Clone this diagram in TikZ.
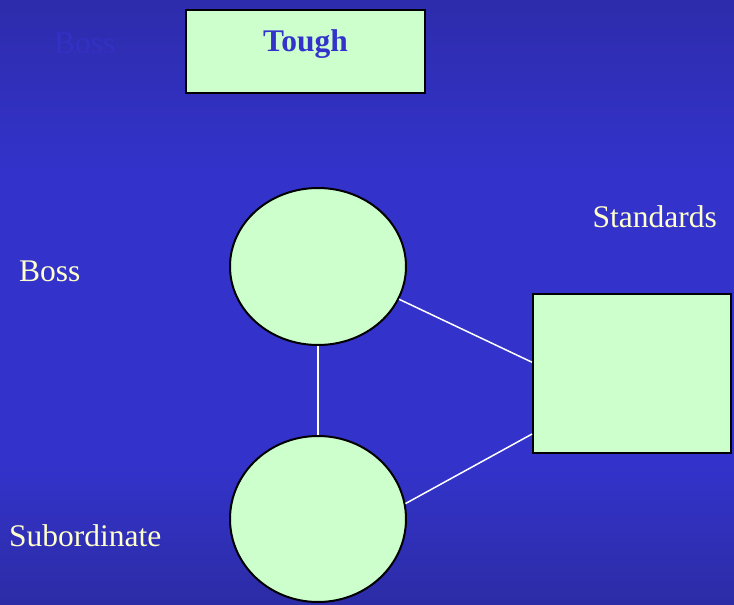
\documentclass[tikz,border=0pt]{standalone}
\usepackage{fontspec}
\setmainfont{Liberation Serif}
\usetikzlibrary{shapes.geometric,calc}
\definecolor{bgtop}{RGB}{45,44,172}
\definecolor{bgmid}{RGB}{51,51,204}
\definecolor{bgbot}{RGB}{44,44,166}
\definecolor{mint}{RGB}{204,255,204}
\definecolor{cream}{RGB}{255,255,204}
\definecolor{titleblue}{RGB}{51,51,204}
\definecolor{ghost}{RGB}{52,48,196}
% slide background: dark at top and bottom, brighter in the middle
\pgfdeclareverticalshading{slidebg}{100bp}{%
  color(0bp)=(bgbot); color(25bp)=(bgbot); color(37bp)=(bgmid);
  color(60bp)=(bgmid); color(75bp)=(bgtop); color(100bp)=(bgtop)}
\tikzset{
  big/.style={font=\fontsize{31.5pt}{36pt}\selectfont, inner sep=0pt},
  lbl/.style={big, text=cream, anchor=base west},
  shapebox/.style={draw=black, line width=2pt, fill=mint, inner sep=0pt},
  oval/.style={shapebox, ellipse},
  link/.style={draw=white, line width=1.5pt}
}
\begin{document}
\begin{tikzpicture}[x=1pt,y=-1pt]
  % background
  \shade[shading=slidebg] (0,0) rectangle (734,605);
  \useasboundingbox (0,0) rectangle (734,605);

  % title box
  \node[shapebox, rectangle, minimum width=239pt, minimum height=83pt]
    (tough) at (305.5,51.5) {};
  \node[big, font=\fontsize{31.5pt}{36pt}\selectfont\bfseries, text=titleblue, anchor=base]
    (toughtxt) at (305.5,51) {Tough};
  \node[big, text=ghost, anchor=base west] (ghostboss) at (54,53) {Boss};

  % actors
  \node[oval, minimum width=176pt, minimum height=157pt] (boss) at (318,266.5) {};
  \node[oval, minimum width=176pt, minimum height=166pt] (sub) at (318,519) {};
  \node[shapebox, rectangle, minimum width=198pt, minimum height=159pt]
    (std) at (632,373.5) {};

  % labels
  \node[lbl] (bosslbl) at (19,281) {Boss};
  \node[lbl] (stdlbl) at (592.5,227) {Standards};
  \node[lbl] (sublbl) at (9,546) {Subordinate};

  % connectors
  \coordinate (stdA) at ($(std.north west)!0.43!(std.south west)$);
  \coordinate (stdB) at ($(std.north west)!0.876!(std.south west)$);
  \draw[link] (boss.south) -- (sub.north);
  \draw[link] (boss.-22) -- (stdA);
  \draw[link] (sub.10) -- (stdB);
\end{tikzpicture}
\end{document}
